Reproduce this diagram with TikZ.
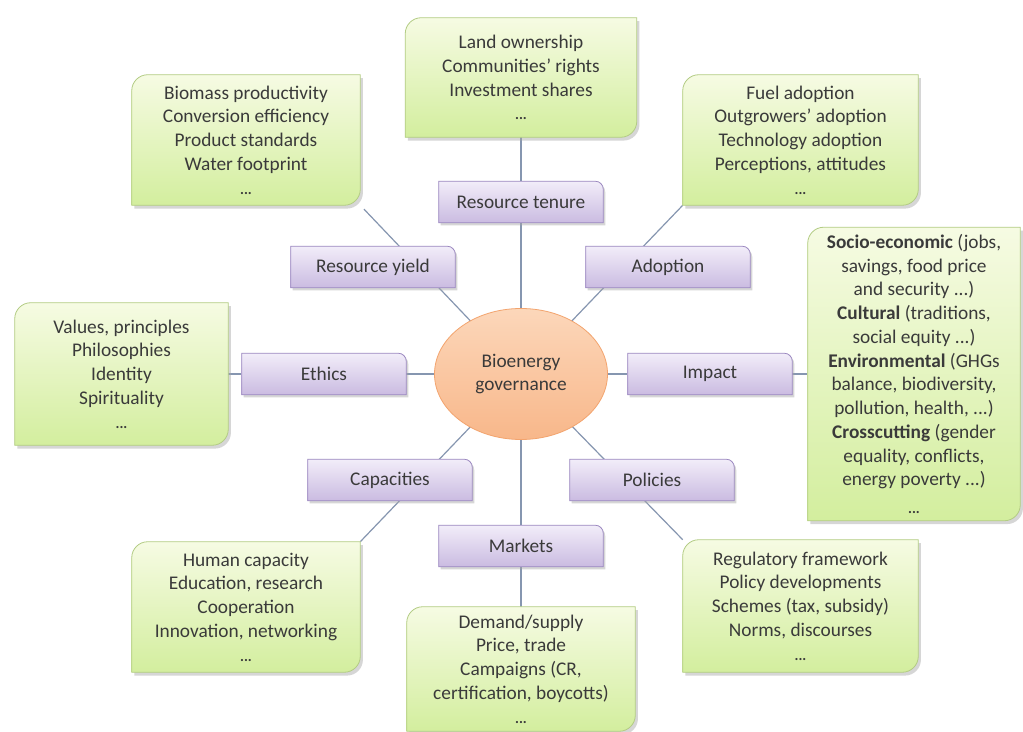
\documentclass[tikz,border=0pt]{standalone}
\usepackage{fontspec}
\setmainfont{Carlito}
\usetikzlibrary{shapes.geometric,backgrounds}
\definecolor{txt}{HTML}{3A3A3A}
\definecolor{linkc}{HTML}{8696B0}
\definecolor{grnA}{HTML}{F6FBE3}
\definecolor{grnB}{HTML}{D3EE9E}
\definecolor{grnline}{HTML}{B3CC84}
\definecolor{purA}{HTML}{F2EDF9}
\definecolor{purB}{HTML}{CABBE1}
\definecolor{purline}{HTML}{9B88C0}
\definecolor{orA}{HTML}{FCD7BA}
\definecolor{orB}{HTML}{F8B78A}
\definecolor{orline}{HTML}{F3A46E}

\newcommand\more{{\fontsize{11}{12}\selectfont\bfseries ...}}
% green box: round top left and bottom right corners
\newcommand\gshape[3]{%
  \path[#1] ([#3]#2.south west) -- ([#3,yshift=-12pt]#2.north west)
    arc[start angle=180,end angle=90,radius=12pt]
    -- ([#3]#2.north east) -- ([#3,yshift=12pt]#2.south east)
    arc[start angle=0,end angle=-90,radius=12pt] -- cycle;}
% purple box: round top right corner
\newcommand\pshape[3]{%
  \path[#1] ([#3]#2.south west) -- ([#3]#2.north west) -- ([#3,xshift=-6pt]#2.north east)
    arc[start angle=90,end angle=0,radius=6pt] -- ([#3]#2.south east) -- cycle;}

\begin{document}
\begin{tikzpicture}[x=0.75pt,y=0.75pt,font=\fontsize{14.5}{17.8}\selectfont,text=txt,
  gbox/.style={align=center,inner sep=0pt},
  pbox/.style={minimum width=123pt,minimum height=30.75pt,inner sep=0pt},
  link/.style={draw=linkc,line width=0.9pt},
  gfill/.style={top color=grnA,bottom color=grnB,draw=grnline,line width=0.6pt},
  pfill/.style={top color=purA,bottom color=purB,draw=purline,line width=0.6pt},
  boxshadow/.style={fill=black!35,opacity=0.45}]
  \path[use as bounding box,clip] (0,0) rectangle (1023,731);

  \node[ellipse,minimum width=129.75pt,minimum height=98.25pt,inner sep=0pt,
    top color=orA,bottom color=orB,draw=orline,line width=0.6pt,align=center]
    (gov) at (521,357) {Bioenergy\\governance};

  % middle ring
  \foreach \nm/\x/\y/\lbl in {tenure/521/529/Resource tenure, yield/373/464/Resource yield,
      adopt/668/464/Adoption, ethics/324/357/Ethics, impact/710/357/Impact,
      capac/390/251/Capacities, policy/652/251/Policies, market/521/185/Markets}
    \node[pbox] (\nm) at (\x,\y) {\lbl};

  % outer ring
  \node[gbox,minimum width=173.25pt,minimum height=89.25pt] (land) at (521,653.5)
    {Land ownership\\Communities' rights\\Investment shares\\\more};
  \node[gbox,minimum width=171pt,minimum height=97.5pt] (biomass) at (246,591)
    {Biomass productivity\\Conversion efficiency\\Product standards\\Water footprint\\\more};
  \node[gbox,minimum width=176.25pt,minimum height=97.5pt] (fuel) at (800.5,591)
    {Fuel adoption\\Outgrowers' adoption\\Technology adoption\\Perceptions, attitudes\\\more};
  \node[gbox,minimum width=159.75pt,minimum height=106.5pt] (values) at (121.5,357)
    {Values, principles\\Philosophies\\Identity\\Spirituality\\\more};
  \node[gbox,minimum width=159pt,minimum height=219.75pt] (impactbox) at (914,357)
    {\textbf{Socio-economic} (jobs,\\savings, food price\\and security ...)\\
     \textbf{Cultural} (traditions,\\social equity ...)\\
     \textbf{Environmental} (GHGs\\balance, biodiversity,\\pollution, health, ...)\\
     \textbf{Crosscutting} (gender\\equality, conflicts,\\energy poverty ...)\\[3pt]\more};
  \node[gbox,minimum width=171pt,minimum height=97.5pt] (human) at (246,124)
    {Human capacity\\Education, research\\Cooperation\\Innovation, networking\\\more};
  \node[gbox,minimum width=176.25pt,minimum height=99pt] (regul) at (800.5,125)
    {Regulatory framework\\Policy developments\\Schemes (tax, subsidy)\\Norms, discourses\\\more};
  \node[gbox,minimum width=171pt,minimum height=93pt] (demand) at (521,62)
    {Demand/supply\\Price, trade\\Campaigns (CR,\\certification, boycotts)\\\more};

  \begin{scope}[on background layer]
    \fill[white] (0,0) rectangle (1023,731);
    \draw[link] (gov.center) -- (land.south);
    \draw[link] (gov.center) -- (demand.north);
    \draw[link] (gov.center) -- (values.east);
    \draw[link] (gov.center) -- (impactbox.west);
    \draw[link,shorten >=4pt] (gov.center) -- (biomass.south east);
    \draw[link] (gov.center) -- (fuel.south west);
    \draw[link] (gov.center) -- (human.north east);
    \draw[link] (gov.center) -- (regul.north west);
    \foreach \nm in {land,biomass,fuel,values,impactbox,human,regul,demand} {
      \gshape{boxshadow}{\nm}{xshift=2pt,yshift=-2.5pt}
      \gshape{gfill}{\nm}{}
    }
    \foreach \nm in {tenure,yield,adopt,ethics,impact,capac,policy,market} {
      \pshape{boxshadow}{\nm}{xshift=1.5pt,yshift=-2pt}
      \pshape{pfill}{\nm}{}
    }
  \end{scope}
\end{tikzpicture}
\end{document}
